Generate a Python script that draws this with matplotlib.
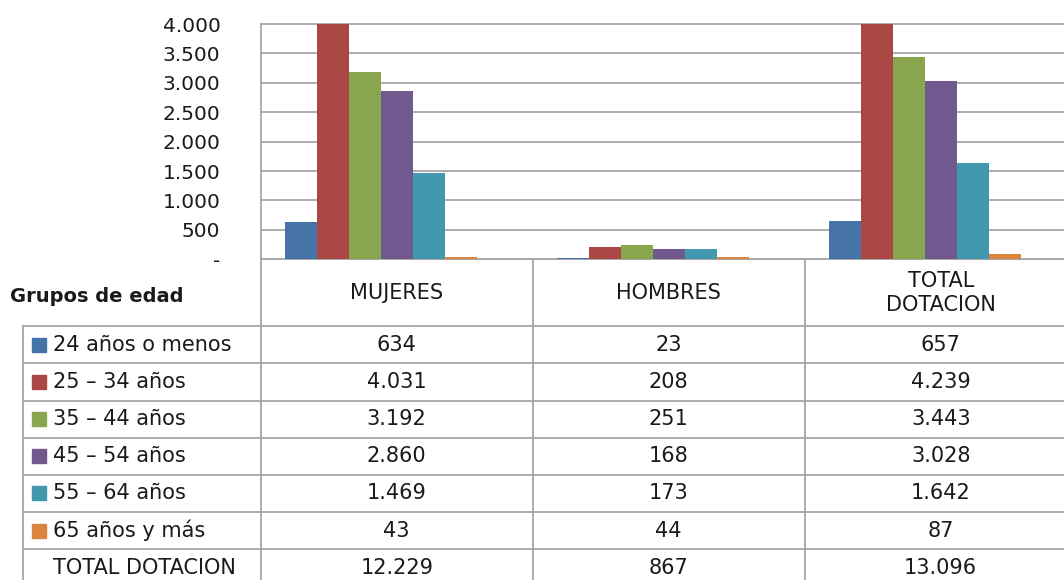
import numpy as np
import matplotlib
matplotlib.use('Agg')
import matplotlib.pyplot as plt
from matplotlib.patches import Rectangle
from matplotlib.ticker import FuncFormatter, MultipleLocator

# datos
grupos = ['MUJERES', 'HOMBRES', 'TOTAL\nDOTACION']
edades = ['24 años o menos', '25 – 34 años', '35 – 44 años', '45 – 54 años',
          '55 – 64 años', '65 años y más', 'TOTAL DOTACION']
menos24 = [634, 23, 657]
e25_34 = [4031, 208, 4239]
e35_44 = [3192, 251, 3443]
e45_54 = [2860, 168, 3028]
e55_64 = [1469, 173, 1642]
mas65 = [43, 44, 87]
total = [12229, 867, 13096]
series = [menos24, e25_34, e35_44, e45_54, e55_64, mas65, total]
colores = ['#4572A7', '#AA4643', '#89A54E', '#71588F', '#4198AF', '#DB843D', None]

plt.rcParams['font.family'] = ['DejaVu Sans']
W, H = 1064, 580
fig = plt.figure(figsize=(W / 100, H / 100), dpi=100)

# geometria (pixeles)
x_axis = 260.7
col_w = 272
y_top = 24
y_base = 259.3
gris = '#A6A6A6'
texto = '#1A1A1A'

ax = fig.add_axes([x_axis / W, (H - y_base) / H, 3 * col_w / W, (y_base - y_top) / H])
n = len(series)
w = 1 / (n + 1.5)
x = np.arange(len(grupos))
for i, (vals, c) in enumerate(zip(series, colores)):
    if c is None:
        continue  # serie sin relleno
    ax.bar(x + (i - (n - 1) / 2) * w, vals, width=w, color=c, linewidth=0, zorder=3)

ax.set_xlim(-0.5, len(grupos) - 0.5)
ax.set_ylim(0, 4000)
ax.yaxis.set_major_locator(MultipleLocator(500))
ax.yaxis.set_major_formatter(FuncFormatter(
    lambda v, p: '-' if v == 0 else f'{int(v):,}'.replace(',', '.')))
ax.tick_params(axis='y', length=0, pad=29, labelsize=14.5, labelcolor=texto)
ax.set_xticks([])
ax.grid(axis='y', color=gris, linewidth=1.3, zorder=0)
for gl in ax.get_ygridlines():
    gl.set_clip_on(False)
for s in ['top', 'right', 'bottom']:
    ax.spines[s].set_visible(False)
ax.spines['left'].set_color(gris)
ax.spines['left'].set_linewidth(1.3)

# tabla
tb = fig.add_axes([0, 0, 1, 1], zorder=-1)
tb.set_xlim(0, W)
tb.set_ylim(H, 0)
tb.axis('off')

x_left = 23.3
y_head = 326.3
row_h = 37.15
col_x = [x_axis + k * col_w for k in range(len(grupos) + 1)]

tb.plot([x_axis, W + 20], [y_base, y_base], color=gris, lw=1.3)
for r in range(len(edades) + 1):
    yy = y_head + r * row_h
    tb.plot([x_left, W + 20], [yy, yy], color=gris, lw=1.3)
tb.plot([x_left, x_left], [y_head, H + 10], color=gris, lw=1.3)
for cx in col_x:
    tb.plot([cx, cx], [y_base, H + 10], color=gris, lw=1.3)

tb.text(10, 297, 'Grupos de edad', fontsize=14, fontweight='bold',
        ha='left', va='center', color=texto)
for k, g in enumerate(grupos):
    tb.text(col_x[k] + col_w / 2, 293, g, fontsize=15, ha='center',
            va='center', color=texto, linespacing=1.3)

for r, (lab, vals, c) in enumerate(zip(edades, series, colores)):
    yc = y_head + (r + 0.5) * row_h
    if c is not None:
        tb.add_patch(Rectangle((32, yc - 7), 14, 14, color=c))
    tb.text(53, yc, lab, fontsize=15, ha='left', va='center', color=texto)
    for k, v in enumerate(vals):
        tb.text(col_x[k] + col_w / 2, yc, f'{v:,}'.replace(',', '.'),
                fontsize=15, ha='center', va='center', color=texto)

fig.savefig('out.png', dpi=100)
